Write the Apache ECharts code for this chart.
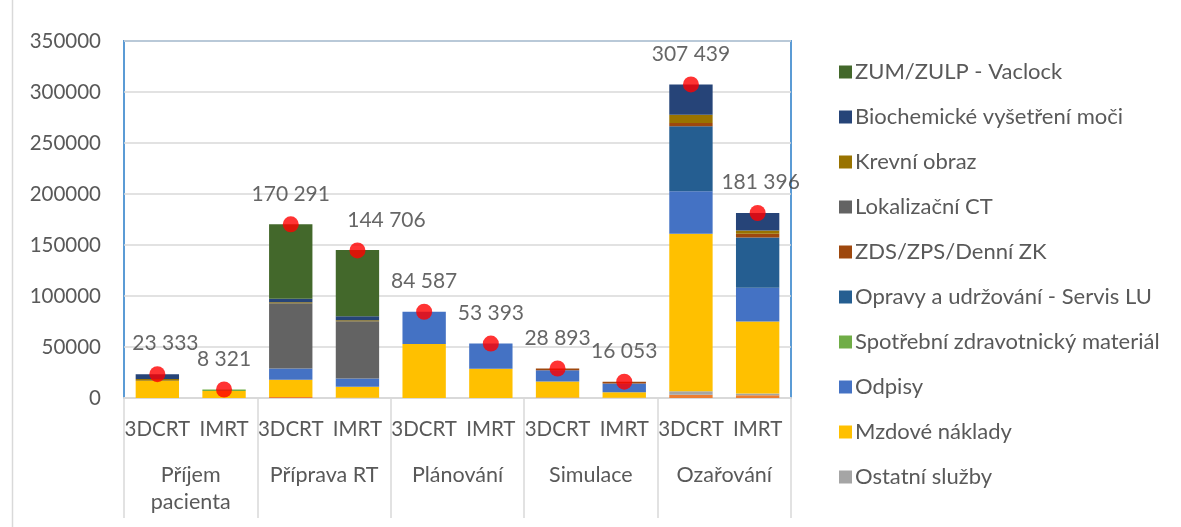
<!DOCTYPE html>
<html>
<head>
<meta charset="utf-8">
<script src="https://cdn.jsdelivr.net/npm/echarts@6/dist/echarts.min.js"></script>
<style>
  html, body { margin: 0; padding: 0; background: #fff; }
  #chart { width: 1181px; height: 527px; }
</style>
</head>
<body>
<div id="chart"></div>
<script>
//数据
var methods = ['3DCRT', 'IMRT', '3DCRT', 'IMRT', '3DCRT', 'IMRT', '3DCRT', 'IMRT', '3DCRT', 'IMRT'];
var phases = ['Příjem\npacienta', 'Příprava RT', 'Plánování', 'Simulace', 'Ozařování'];
var totals = [23333, 8321, 170291, 144706, 84587, 53393, 28893, 16053, 307439, 181396];
var yTicks = [0, 350000, 50000]; // min, max, interval

// vrstvy odspodu nahoru
var ostatniNaklady = [0, 0, 1000, 300, 0, 0, 400, 300, 3300, 2700];
var ostatniSluzby = [0, 0, 0, 0, 0, 0, 0, 0, 3300, 1800];
var mzdove = [16800, 6900, 17000, 10800, 53000, 28700, 15700, 5300, 154400, 70500];
var odpisy = [0, 0, 10800, 8100, 31587, 24693, 11100, 8500, 41800, 33000];
var spotrebni = [0, 1421, 0, 0, 0, 0, 0, 0, 0, 0];
var opravy = [0, 0, 0, 0, 0, 0, 0, 0, 63500, 49400];
var zds = [0, 0, 0, 0, 0, 0, 1693, 1953, 3300, 3600];
var lokalizacni = [0, 0, 64100, 56000, 0, 0, 0, 0, 0, 0];
var krevni = [1800, 0, 1000, 1000, 0, 0, 0, 0, 8100, 3300];
var biochemicke = [4733, 0, 3500, 3900, 0, 0, 0, 0, 29739, 17096];
var zum = [0, 0, 72991, 64906, 0, 0, 0, 0, 0, 0];

var layers = [
  { name: 'Ostatní náklady', data: ostatniNaklady },
  { name: 'Ostatní služby', data: ostatniSluzby },
  { name: 'Mzdové náklady', data: mzdove },
  { name: 'Odpisy', data: odpisy },
  { name: 'Spotřební zdravotnický materiál', data: spotrebni },
  { name: 'Opravy a udržování - Servis LU', data: opravy },
  { name: 'ZDS/ZPS/Denní ZK', data: zds },
  { name: 'Lokalizační CT', data: lokalizacni },
  { name: 'Krevní obraz', data: krevni },
  { name: 'Biochemické vyšetření moči', data: biochemicke },
  { name: 'ZUM/ZULP - Vaclock', data: zum }
];

//barvy
var colors = {
  'Ostatní náklady': '#ED7D31',
  'Ostatní služby': '#A5A5A5',
  'Mzdové náklady': '#FFC000',
  'Odpisy': '#4472C4',
  'Spotřební zdravotnický materiál': '#70AD47',
  'Opravy a udržování - Servis LU': '#255E91',
  'ZDS/ZPS/Denní ZK': '#9E480E',
  'Lokalizační CT': '#636363',
  'Krevní obraz': '#997300',
  'Biochemické vyšetření moči': '#264478',
  'ZUM/ZULP - Vaclock': '#43682B'
};

// posun popisků (index -> [dx, dy])
var labelShift = { 0: [8, 0], 3: [29, 0], 9: [3, 0] };

var font = 'Lato, "Noto Sans", sans-serif';
var textColor = '#595959';

var series = layers.map(function (l) {
  return {
    name: l.name,
    type: 'bar',
    stack: 'cost',
    barCategoryGap: '35%',
    itemStyle: { color: colors[l.name] },
    data: l.data
  };
});

series.push({
  name: 'Celkem',
  type: 'scatter',
  symbol: 'circle',
  symbolSize: 16,
  z: 10,
  itemStyle: { color: '#FF0000' },
  label: {
    show: true,
    position: 'top',
    distance: 12,
    fontFamily: font,
    fontSize: 21,
    color: '#404040',
    formatter: function (p) {
      return String(p.value).replace(/\B(?=(\d{3})+(?!\d))/g, ' ');
    }
  },
  data: totals.map(function (v, i) {
    var item = { value: v };
    if (labelShift[i]) item.label = { offset: labelShift[i] };
    return item;
  })
});

var legendNames = layers.slice(1).map(function (l) { return l.name; }).reverse();

var chart = echarts.init(document.getElementById('chart'));
chart.setOption({
  animation: false,
  backgroundColor: '#fff',
  textStyle: { fontFamily: font },
  grid: {
    left: 124,
    right: 390,
    top: 41,
    bottom: 129,
    show: true,
    borderColor: '#5B9BD5',
    borderWidth: 2,
    containLabel: false
  },
  legend: {
    orient: 'vertical',
    left: 834,
    top: 56,
    icon: 'rect',
    itemWidth: 13,
    itemHeight: 13,
    itemGap: 23,
    data: legendNames,
    textStyle: { fontFamily: font, fontSize: 22, color: textColor, lineHeight: 22, padding: [0, 0, 0, -2] }
  },
  xAxis: [{
    type: 'category',
    position: 'bottom',
    data: methods,
    axisLine: { lineStyle: { color: '#D9D9D9', width: 2 } },
    axisTick: { show: false },
    axisLabel: { margin: 21, fontFamily: font, fontSize: 20.5, color: textColor, interval: 0 }
  }, {
    type: 'category',
    position: 'bottom',
    data: phases,
    axisLine: { show: false },
    axisTick: { show: true, length: 120, lineStyle: { color: '#D9D9D9', width: 1.5 } },
    axisLabel: {
      margin: 64,
      fontFamily: font,
      fontSize: 21.5,
      color: textColor,
      interval: 0,
      verticalAlign: 'top',
      lineHeight: 27
    }
  }],
  yAxis: {
    type: 'value',
    min: yTicks[0],
    max: yTicks[1],
    interval: yTicks[2],
    axisLine: { show: false },
    axisTick: { show: false },
    splitLine: { lineStyle: { color: '#D9D9D9', width: 1.5 } },
    axisLabel: {
      margin: 23,
      fontFamily: font,
      fontSize: 20.5,
      color: textColor,
      formatter: function (v) { return String(v); }
    }
  },
  graphic: [{
    type: 'line',
    shape: { x1: 12.5, y1: 0, x2: 12.5, y2: 527 },
    style: { stroke: '#D9D9D9', lineWidth: 1.5 }
  }],
  series: series
});
</script>
</body>
</html>
